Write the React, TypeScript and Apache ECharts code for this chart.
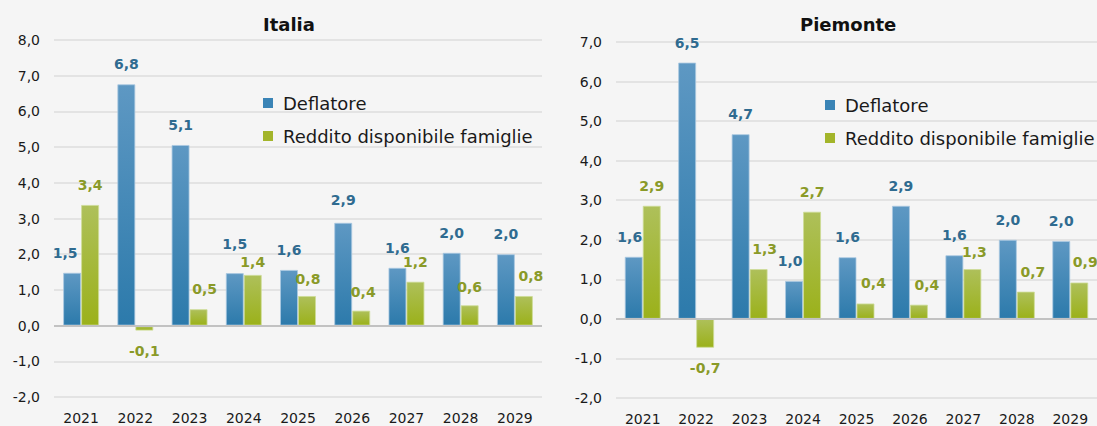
import React, { useEffect, useRef } from "react";
import * as echarts from "echarts";

const categories = ["2021", "2022", "2023", "2024", "2025", "2026", "2027", "2028", "2029"];
const seriesNames = ["Deflatore", "Reddito disponibile famiglie"];
const italiaDeflatore = [1.48, 6.76, 5.06, 1.47, 1.56, 2.88, 1.62, 2.04, 2.0];
const italiaReddito = [3.38, -0.14, 0.46, 1.42, 0.83, 0.42, 1.23, 0.57, 0.83];
const piemonteDeflatore = [1.57, 6.48, 4.67, 0.96, 1.56, 2.86, 1.61, 2.0, 1.97];
const piemonteReddito = [2.86, -0.73, 1.26, 2.71, 0.39, 0.36, 1.26, 0.69, 0.92];
const titles = ["Italia", "Piemonte"];

// label nudges (pixels) to mimic the original label placement
const nudgeItaliaDef: [number, number][] = [[-7, 0], [0, 0], [0, 0], [0, -9], [0, 0], [0, -3], [0, 0], [0, 0], [0, 0]];
const nudgeItaliaRed: [number, number][] = [[0, 0], [0, 0], [6, 0], [0, 7], [1, 3], [2, 1], [0, 0], [0, 2], [7, 0]];
const nudgePiemDef: [number, number][] = [[-4, 0], [0, 0], [0, 0], [-4, 0], [0, 0], [0, 0], [0, 0], [0, 0], [0, 0]];
const nudgePiemRed: [number, number][] = [[0, 0], [0, 0], [6, 0], [0, 0], [8, 0], [8, 0], [2, 3], [7, 0], [6, 0]];

const FONT = "DejaVu Sans";
const fmt = (v: number) => v.toFixed(1).replace(".", ",");

const blueGrad = () =>
  new echarts.graphic.LinearGradient(0, 0, 0, 1, [
    { offset: 0, color: "#5e98c3" },
    { offset: 1, color: "#2c7aab" },
  ]);
const greenGrad = () =>
  new echarts.graphic.LinearGradient(0, 0, 0, 1, [
    { offset: 0, color: "#aec05a" },
    { offset: 1, color: "#9bb11a" },
  ]);

function makeData(values: number[], nudges: [number, number][]) {
  return values.map((v, i) => {
    const off = nudges[i] || [0, 0];
    return {
      value: v,
      label: v < 0 ? { position: "bottom", offset: off } : { position: "top", offset: off },
    };
  });
}

function barSeries(
  name: string,
  values: number[],
  nudges: [number, number][],
  idx: number,
  isBlue: boolean,
  withZero: boolean
) {
  const s: any = {
    name,
    type: "bar",
    xAxisIndex: idx,
    yAxisIndex: idx,
    data: makeData(values, nudges),
    barWidth: 18,
    barGap: "0%",
    itemStyle: {
      color: isBlue ? blueGrad() : greenGrad(),
      borderColor: isBlue ? "rgba(170,200,225,0.8)" : "rgba(205,220,150,0.8)",
      borderWidth: 1,
    },
    label: {
      show: true,
      position: "top",
      distance: 13,
      formatter: (p: any) => fmt(p.value),
      fontFamily: FONT,
      fontSize: 14,
      fontWeight: "bold",
      color: isBlue ? "#2f6b90" : "#8a9a28",
    },
  };
  if (withZero) {
    s.markLine = {
      silent: true,
      symbol: "none",
      label: { show: false },
      lineStyle: { color: "#c2c2c2", width: 2, type: "solid" },
      data: [{ yAxis: 0 }],
    };
  }
  return s;
}

function legendFor(left: number, top: number) {
  return {
    orient: "vertical",
    left,
    top,
    padding: 0,
    itemWidth: 10,
    itemHeight: 10,
    itemGap: 15,
    icon: "rect",
    selectedMode: false,
    textStyle: {
      fontFamily: FONT,
      fontSize: 18,
      color: "#1a1a1a",
      lineHeight: 18,
      padding: [0, 0, 0, 5],
    },
    data: [
      { name: seriesNames[0], itemStyle: { color: "#3a84b6", borderWidth: 0 } },
      { name: seriesNames[1], itemStyle: { color: "#a3b52a", borderWidth: 0 } },
    ],
  };
}

function xAxisFor(idx: number) {
  return {
    type: "category",
    gridIndex: idx,
    data: categories,
    axisLine: { show: false, onZero: false },
    axisTick: { show: false },
    axisLabel: { fontFamily: FONT, fontSize: 14, color: "#1a1a1a", margin: 14 },
  };
}

function yAxisFor(idx: number, max: number) {
  return {
    type: "value",
    gridIndex: idx,
    min: -2,
    max,
    interval: 1,
    axisLine: { show: false },
    axisTick: { show: false },
    splitLine: { lineStyle: { color: "#dcdcdc", width: 1.5 } },
    axisLabel: {
      fontFamily: FONT,
      fontSize: 14,
      color: "#1a1a1a",
      margin: 14,
      formatter: (v: number) => fmt(v),
    },
  };
}

export default function App() {
  const ref = useRef<HTMLDivElement>(null);
  useEffect(() => {
    if (!ref.current) return;
    const chart = echarts.init(ref.current, null, { renderer: "svg" });
    chart.setOption({
      animation: false,
      backgroundColor: "#f5f5f5",
      title: [
        {
          text: titles[0],
          left: 263,
          top: 15,
          padding: 0,
          textStyle: { fontFamily: FONT, fontSize: 18, fontWeight: "bold", color: "#111" },
        },
        {
          text: titles[1],
          left: 800,
          top: 15,
          padding: 0,
          textStyle: { fontFamily: FONT, fontSize: 18, fontWeight: "bold", color: "#111" },
        },
      ],
      legend: [legendFor(263, 94), legendFor(825, 96)],
      grid: [
        { left: 54, top: 40, width: 488, height: 357 },
        { left: 616, top: 42, width: 490, height: 356 },
      ],
      xAxis: [xAxisFor(0), xAxisFor(1)],
      yAxis: [yAxisFor(0, 8), yAxisFor(1, 7)],
      series: [
        barSeries(seriesNames[0], italiaDeflatore, nudgeItaliaDef, 0, true, true),
        barSeries(seriesNames[1], italiaReddito, nudgeItaliaRed, 0, false, false),
        barSeries(seriesNames[0], piemonteDeflatore, nudgePiemDef, 1, true, true),
        barSeries(seriesNames[1], piemonteReddito, nudgePiemRed, 1, false, false),
      ],
    });
    return () => chart.dispose();
  }, []);
  return (
    <div
      ref={ref}
      style={{ position: "fixed", left: 0, top: 0, width: 1097, height: 426, overflow: "hidden" }}
    />
  );
}
